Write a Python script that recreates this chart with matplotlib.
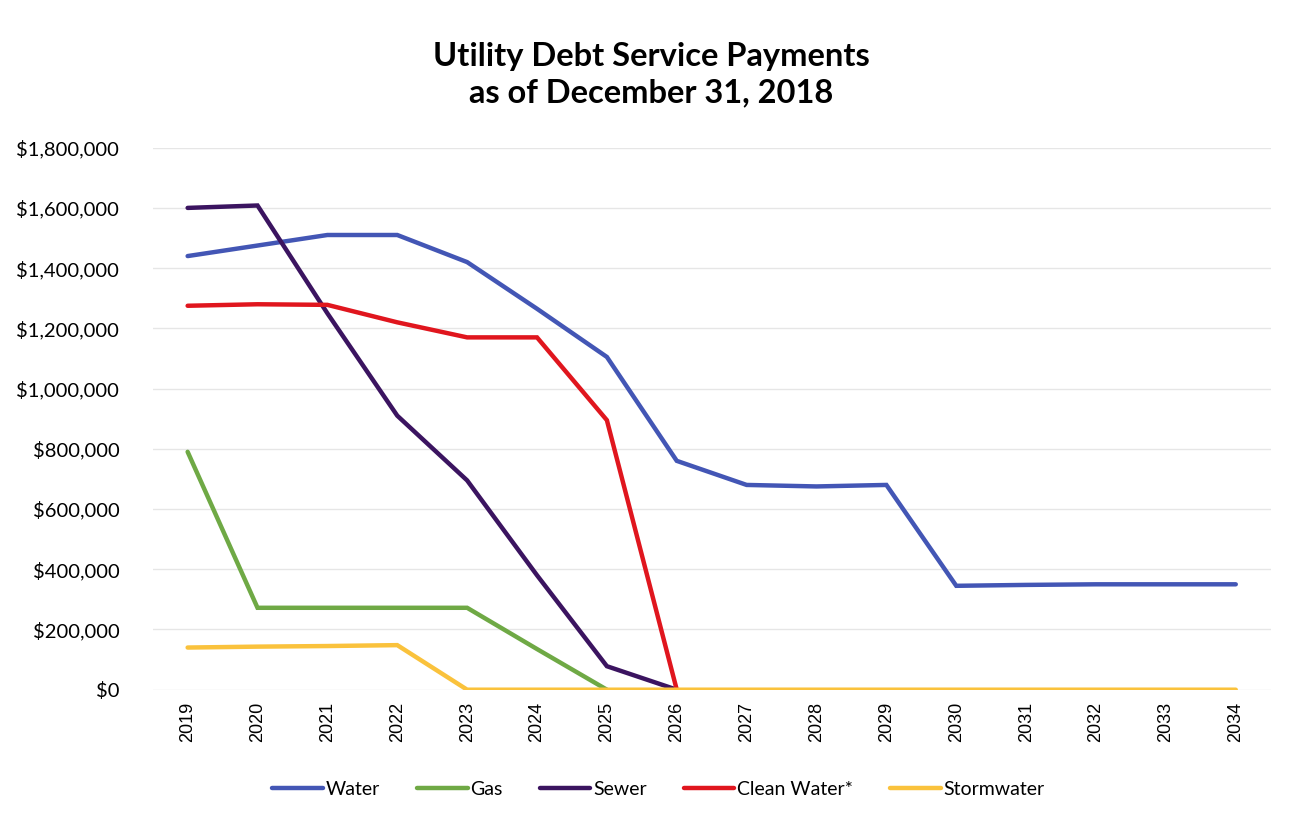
import matplotlib.pyplot as plt
from matplotlib.ticker import FuncFormatter

years = [str(y) for y in range(2019, 2035)]

water = [1440000, 1475000, 1510000, 1510000, 1420000, 1265000, 1105000, 760000,
         680000, 675000, 680000, 345000, 348000, 350000, 350000, 350000]
gas = [790000, 272000, 272000, 272000, 272000, 135000, 0]
sewer = [1600000, 1608000, 1250000, 910000, 695000, 380000, 78000, 0]
clean_water = [1275000, 1280000, 1278000, 1220000, 1170000, 1170000, 895000, 0]
stormwater = [140000, 143000, 145000, 148000, 0, 0, 0, 0,
              0, 0, 0, 0, 0, 0, 0, 0]

series = [
    ("Water", water, "#4356B5"),
    ("Gas", gas, "#6FA945"),
    ("Sewer", sewer, "#3B1460"),
    ("Clean Water*", clean_water, "#E0161E"),
    ("Stormwater", stormwater, "#FAC23C"),
]

plt.rcParams['font.family'] = ['Lato', 'DejaVu Sans']

fig = plt.figure(figsize=(12.94, 8.25), dpi=100)
ax = fig.add_axes([0.118, 0.164, 0.864, 0.657])

x = list(range(len(years)))
for name, vals, col in series:
    ax.plot(x[:len(vals)], vals, color=col, lw=3.2, label=name,
            solid_capstyle='round', solid_joinstyle='miter')

ax.set_xlim(-0.5, len(years) - 0.5)
ax.set_ylim(0, 1800000)
ax.set_yticks(range(0, 1800001, 200000))
ax.yaxis.set_major_formatter(FuncFormatter(lambda v, p: f"${v:,.0f}"))
ax.set_xticks(x)
ax.set_xticklabels(years, rotation=90, fontsize=13, family='Liberation Sans')
ax.tick_params(axis='y', labelsize=14.5, length=0, pad=24)
ax.tick_params(axis='x', length=0, pad=9)
ax.grid(axis='y', color='#e6e6e6', lw=1)
ax.set_axisbelow(True)
for s in ax.spines.values():
    s.set_visible(False)

fig.text(0.503, 0.909, "Utility Debt Service Payments\nas of December 31, 2018",
         ha='center', va='center', fontsize=23.5, fontweight='bold',
         linespacing=1.3)

fig.legend(loc='center', bbox_to_anchor=(0.509, 0.043), ncol=5, frameon=False,
           fontsize=14, handlelength=2.6, handletextpad=0.15, columnspacing=1.9)

plt.savefig("out.png", dpi=100)
